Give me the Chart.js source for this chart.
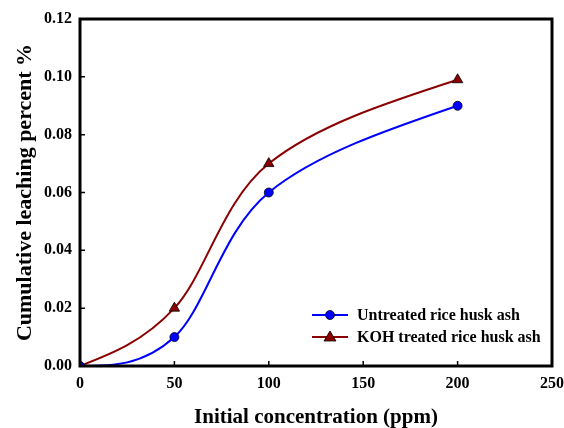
<!DOCTYPE html>
<html>
<head>
<meta charset="utf-8">
<script src="https://cdn.jsdelivr.net/npm/chart.js@4.4.1/dist/chart.umd.min.js"></script>
<style>
  html, body { margin: 0; padding: 0; background: #fff; }
  #wrap { width: 564px; height: 428px; }
</style>
</head>
<body>
<div id="wrap"><canvas id="leachChart" width="564" height="428"></canvas></div>
<script>
// Cumulative leaching vs initial concentration
const concentrations = [0, 50, 100, 200];
const untreatedAsh = [0, 0.010, 0.060, 0.090];
const kohTreatedAsh = [0, 0.020, 0.070, 0.099];
const xTicks = [0, 50, 100, 150, 200, 250];
const yTicks = [0, 0.02, 0.04, 0.06, 0.08, 0.10, 0.12];
const seriesNames = ["Untreated rice husk ash", "KOH treated rice husk ash"];

const BLUE = "#0000ff";
const DARKRED = "#8b0000";
const FONT = "'Liberation Serif', 'Times New Roman', serif";

const toPoints = (ys) => concentrations.map((x, i) => ({ x: x, y: ys[i] }));

// spreadsheet-style smoothing: catmull-rom inside, natural ends
const smoothPlugin = {
  id: "smooth",
  beforeDatasetsDraw(chart) {
    chart.data.datasets.forEach((ds, di) => {
      const meta = chart.getDatasetMeta(di);
      meta.dataset.updateControlPoints(chart.chartArea, "x");
      const pts = meta.data;
      const n = pts.length;
      for (let i = 1; i < n - 1; i++) {
        const p = pts[i];
        const dx = (pts[i + 1].x - pts[i - 1].x) / 6;
        const dy = (pts[i + 1].y - pts[i - 1].y) / 6;
        p.cp1x = p.x - dx;
        p.cp1y = p.y - dy;
        p.cp2x = p.x + dx;
        p.cp2y = p.y + dy;
      }
      const first = pts[0];
      const last = pts[n - 1];
      first.cp2x = (first.x + pts[1].cp1x) / 2;
      first.cp2y = (first.y + pts[1].cp1y) / 2;
      first.cp1x = first.x;
      first.cp1y = first.y;
      last.cp1x = (last.x + pts[n - 2].cp2x) / 2;
      last.cp1y = (last.y + pts[n - 2].cp2y) / 2;
      last.cp2x = last.x;
      last.cp2y = last.y;
    });
  },
};

// frame, inward ticks and legend
const framePlugin = {
  id: "frame",
  afterDraw(chart) {
    const ctx = chart.ctx;
    const a = chart.chartArea;
    const xs = chart.scales.x;
    const ys = chart.scales.y;
    ctx.save();
    ctx.strokeStyle = "#000";
    ctx.lineWidth = 1.5;
    ctx.beginPath();
    xTicks.forEach((t) => {
      const px = xs.getPixelForValue(t);
      ctx.moveTo(px, a.bottom);
      ctx.lineTo(px, a.bottom - 5);
    });
    yTicks.forEach((t) => {
      const py = ys.getPixelForValue(t);
      ctx.moveTo(a.left, py);
      ctx.lineTo(a.left + 5, py);
    });
    ctx.stroke();
    ctx.lineWidth = 3;
    ctx.strokeRect(a.left, a.top, a.right - a.left, a.bottom - a.top);

    // legend
    const rows = [
      { name: seriesNames[0], color: BLUE, shape: "circle", y: 315 },
      { name: seriesNames[1], color: DARKRED, shape: "triangle", y: 337 },
    ];
    rows.forEach((r) => {
      ctx.strokeStyle = r.color;
      ctx.fillStyle = r.color;
      ctx.lineWidth = 2;
      ctx.beginPath();
      ctx.moveTo(312, r.y);
      ctx.lineTo(348, r.y);
      ctx.stroke();
      ctx.beginPath();
      if (r.shape === "circle") {
        ctx.arc(330, r.y, 4.5, 0, Math.PI * 2);
      } else {
        ctx.moveTo(330, r.y - 6);
        ctx.lineTo(336, r.y + 4);
        ctx.lineTo(324, r.y + 4);
        ctx.closePath();
      }
      ctx.fill();
      ctx.strokeStyle = "#000";
      ctx.lineWidth = 0.8;
      ctx.stroke();
      ctx.fillStyle = "#000";
      ctx.font = "bold 16px " + FONT;
      ctx.textAlign = "left";
      ctx.textBaseline = "middle";
      ctx.fillText(r.name, 357, r.y + 1);
    });
    ctx.restore();
  },
};

new Chart(document.getElementById("leachChart"), {
  type: "line",
  data: {
    datasets: [
      {
        label: seriesNames[0],
        data: toPoints(untreatedAsh),
        borderColor: BLUE,
        backgroundColor: BLUE,
        borderWidth: 2,
        pointStyle: "circle",
        pointRadius: 4.5,
        pointBorderColor: "#000",
        pointBorderWidth: 0.8,
        tension: 0.5,
        fill: false,
      },
      {
        label: seriesNames[1],
        data: toPoints(kohTreatedAsh),
        borderColor: DARKRED,
        backgroundColor: DARKRED,
        borderWidth: 2,
        pointStyle: "triangle",
        pointRadius: 6,
        pointBorderColor: "#000",
        pointBorderWidth: 0.8,
        tension: 0.5,
        fill: false,
      },
    ],
  },
  options: {
    responsive: false,
    animation: false,
    events: [],
    layout: { padding: { top: 19, right: 12, left: 0, bottom: 0 } },
    plugins: {
      legend: { display: false },
      tooltip: { enabled: false },
    },
    scales: {
      x: {
        type: "linear",
        min: 0,
        max: 250,
        afterBuildTicks: (s) => { s.ticks = xTicks.map((v) => ({ value: v })); },
        afterFit: (s) => { s.height = 62; s.paddingLeft = 0; s.paddingRight = 0; },
        grid: { display: false, drawTicks: false },
        border: { display: false },
        ticks: {
          padding: 8,
          color: "#000",
          font: { family: FONT, size: 16, weight: "bold" },
        },
        title: {
          display: true,
          text: "Initial concentration (ppm)",
          color: "#000",
          font: { family: FONT, size: 21, weight: "bold" },
          padding: { top: 0, bottom: -2 },
        },
      },
      y: {
        type: "linear",
        min: 0,
        max: 0.12,
        afterBuildTicks: (s) => { s.ticks = yTicks.map((v) => ({ value: v })); },
        afterFit: (s) => { s.width = 80; s.paddingTop = 0; s.paddingBottom = 0; },
        grid: { display: false, drawTicks: false },
        border: { display: false },
        ticks: {
          padding: 8,
          color: "#000",
          font: { family: FONT, size: 16, weight: "bold" },
          callback: (v) => Number(v).toFixed(2),
        },
        title: {
          display: true,
          text: "Cumulative leaching percent %",
          color: "#000",
          font: { family: FONT, size: 22, weight: "bold" },
          padding: { top: 12, bottom: 0 },
        },
      },
    },
  },
  plugins: [smoothPlugin, framePlugin],
});
</script>
</body>
</html>
